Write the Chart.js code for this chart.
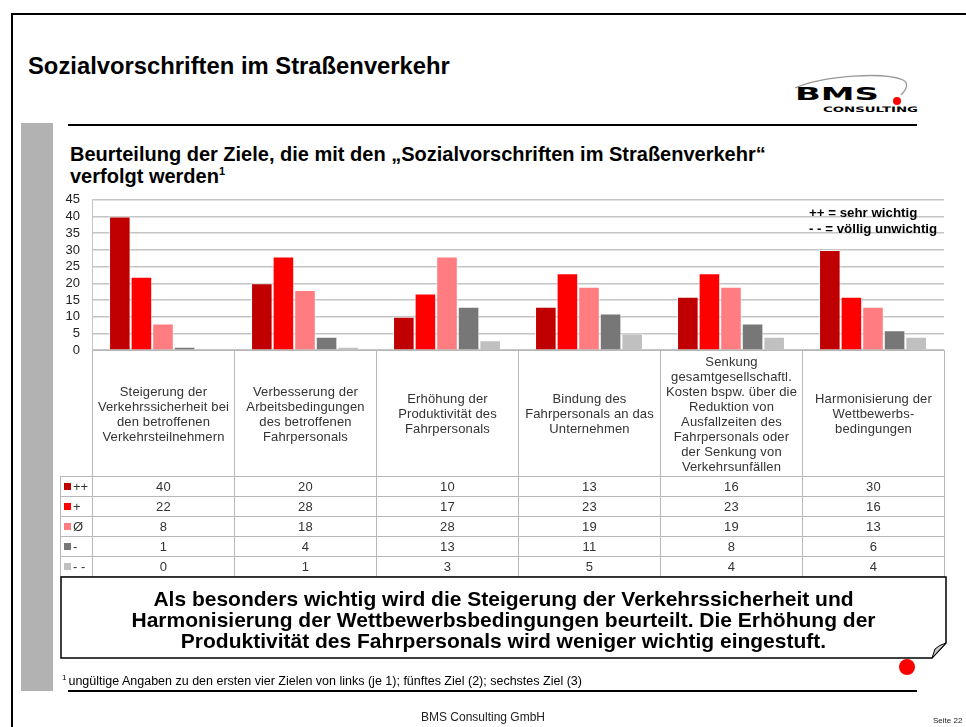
<!DOCTYPE html>
<html lang="de">
<head>
<meta charset="utf-8">
<title>Sozialvorschriften im Straßenverkehr</title>
<script src="https://cdn.jsdelivr.net/npm/chart.js@4.4.1/dist/chart.umd.min.js"></script>
<style>
  body { margin: 0; background: #fff; font-family: "Liberation Sans", Arial, sans-serif; }
  #slide { position: relative; width: 966px; height: 727px; overflow: hidden; background: #fff; }
  .abs { position: absolute; }
  #frame { left: 11px; top: 13px; width: 980px; height: 740px; border-left: 2px solid #000; border-top: 2px solid #000; }
  #graybar { left: 21px; top: 123px; width: 32px; height: 568px; background: #b2b2b2; }
  .rule { height: 0; border-top: 2px solid #000; }
  #title { left: 28px; top: 52px; font-size: 23.8px; font-weight: bold; color: #000; }
  #subtitle { left: 70px; top: 143px; font-size: 20px; font-weight: bold; line-height: 22px; color: #000; }
  #subtitle sup { font-size: 11px; vertical-align: 8px; line-height: 0; }
  #scale-note { left: 809px; top: 205px; font-size: 13.3px; font-weight: bold; line-height: 16px; color: #000; }
  #chart-wrap { left: 40px; top: 180px; width: 904px; height: 190px; }
  #tbl { left: 60px; top: 350px; border-collapse: collapse; table-layout: fixed; font-size: 13px; color: #333; }
  #tbl td { border: 1px solid #b8b8b8; text-align: center; padding: 0; letter-spacing: 0.15px; }
  #tbl td.key { text-align: left; padding-left: 3px; white-space: nowrap; letter-spacing: 0; }
  #tbl td.blank { border-top: none; border-left: none; }
  #tbl tr.head td { line-height: 15px; vertical-align: middle; }
  .sw { display: inline-block; width: 7px; height: 7px; margin-right: 2px; vertical-align: 1px; }
  #box-text { left: 61px; top: 580px; width: 885px; height: 81px; display: flex; align-items: center; justify-content: center;
              text-align: center; font-size: 21px; font-weight: bold; line-height: 21px; color: #000; }
  #footnote { left: 62px; top: 674px; font-size: 12.5px; color: #000; }
  #footnote sup { font-size: 8px; vertical-align: 5px; line-height: 0; margin-right: 2px; }
  #footer { left: 0; width: 966px; top: 710px; text-align: center; font-size: 12px; color: #222; }
  #page { left: 933px; top: 716px; font-size: 8px; color: #222; }
</style>
</head>
<body>
<div id="slide">
  <div id="frame" class="abs"></div>
  <div id="title" class="abs">Sozialvorschriften im Straßenverkehr</div>

  <svg class="abs" style="left:785px;top:70px" width="150" height="55">
    <path d="M10 18 C 40 5, 100 2, 118 10 C 124 13, 122 19, 116 25" fill="none" stroke="#999" stroke-width="1.3"/>
    <text x="10" y="30" font-family="DejaVu Sans" font-weight="bold" font-size="18" textLength="84" lengthAdjust="spacingAndGlyphs">BMS</text>
    <circle cx="112" cy="31" r="4" fill="#f00"/>
    <text x="38" y="42" font-family="DejaVu Sans" font-weight="bold" font-size="7.5" textLength="95" lengthAdjust="spacingAndGlyphs">CONSULTING</text>
  </svg>

  <div id="graybar" class="abs"></div>
  <div class="abs rule" style="left:68px;top:124px;width:849px"></div>

  <div id="subtitle" class="abs">Beurteilung der Ziele, die mit den „Sozialvorschriften im Straßenverkehr“<br>verfolgt werden<sup>1</sup></div>

  <div id="chart-wrap" class="abs"><canvas id="chart" width="904" height="190"></canvas></div>
  <div id="scale-note" class="abs">++ = sehr wichtig<br>- - = völlig unwichtig</div>

  <table id="tbl" class="abs"></table>

  <svg class="abs" style="left:0;top:0" width="966" height="727">
    <path d="M61 577 L946 577 L946 643 L932 658 L61 658 Z" fill="none" stroke="#000" stroke-width="1.5"/>
    <path d="M932 658 L935 649 Q 939 645 946 643 Z" fill="#c8c8c8" stroke="#000" stroke-width="1"/>
    <circle cx="907" cy="667" r="8" fill="#f00"/>
  </svg>
  <div id="box-text" class="abs" style="height:78px">Als besonders wichtig wird die Steigerung der Verkehrssicherheit und<br>Harmonisierung der Wettbewerbsbedingungen beurteilt. Die Erhöhung der<br>Produktivität des Fahrpersonals wird weniger wichtig eingestuft.</div>

  <div id="footnote" class="abs"><sup>1</sup>ungültige Angaben zu den ersten vier Zielen von links (je 1); fünftes Ziel (2); sechstes Ziel (3)</div>
  <div class="abs rule" style="left:68px;top:690px;width:849px"></div>

  <div id="footer" class="abs">BMS Consulting GmbH</div>
  <div id="page" class="abs">Seite 22</div>
</div>

<script>
// Ziele (Kategorien), zeilenweise wie im Original umbrochen
const categories = [
  ['Steigerung der', 'Verkehrssicherheit bei', 'den betroffenen', 'Verkehrsteilnehmern'],
  ['Verbesserung der', 'Arbeitsbedingungen', 'des betroffenen', 'Fahrpersonals'],
  ['Erhöhung der', 'Produktivität des', 'Fahrpersonals'],
  ['Bindung des', 'Fahrpersonals an das', 'Unternehmen'],
  ['Senkung', 'gesamtgesellschaftl.', 'Kosten bspw. über die', 'Reduktion von', 'Ausfallzeiten des', 'Fahrpersonals oder', 'der Senkung von', 'Verkehrsunfällen'],
  ['Harmonisierung der', 'Wettbewerbs-', 'bedingungen']
];

// Bewertungen (Anzahl Nennungen)
const seriesLabels = ['++', '+', 'Ø', '-', '- -'];
const sehrWichtig = [40, 20, 10, 13, 16, 30];
const wichtig = [22, 28, 17, 23, 23, 16];
const neutral = [8, 18, 28, 19, 19, 13];
const unwichtig = [1, 4, 13, 11, 8, 6];
const voelligUnwichtig = [0, 1, 3, 5, 4, 4];
const seriesColors = ['#c00000', '#ff0000', '#ff7c80', '#777777', '#c0c0c0'];

// y-Achse
const yMin = 0;
const yMax = 45;
const yStep = 5;

const allSeries = [sehrWichtig, wichtig, neutral, unwichtig, voelligUnwichtig];

// Datentabelle unter dem Diagramm
function renderTable() {
  const tbl = document.getElementById('tbl');
  let html = '<colgroup><col style="width:32px">' +
    categories.map(() => '<col style="width:142px">').join('') + '</colgroup>';
  html += '<tr class="head" style="height:126px"><td class="blank"></td>' +
    categories.map(lines => `<td>${lines.join('<br>')}</td>`).join('') + '</tr>';
  allSeries.forEach((values, i) => {
    html += `<tr style="height:20px"><td class="key"><span class="sw" style="background:${seriesColors[i]}"></span>${seriesLabels[i]}</td>` +
      values.map(v => `<td>${v}</td>`).join('') + '</tr>';
  });
  tbl.innerHTML = html;
}

// Säulendiagramm
function initChart() {
  const ctx = document.getElementById('chart').getContext('2d');
  new Chart(ctx, {
    type: 'bar',
    data: {
      labels: categories.map(c => c.join(' ')),
      datasets: allSeries.map((values, i) => ({
        label: seriesLabels[i],
        data: values,
        backgroundColor: seriesColors[i],
        borderColor: 'rgba(255,255,255,0.7)',
        borderWidth: 1,
        categoryPercentage: 0.76,
        barPercentage: 1.0
      }))
    },
    options: {
      responsive: false,
      animation: false,
      devicePixelRatio: 1,
      layout: { padding: { top: 12, bottom: 8, left: 0, right: 0 } },
      plugins: { legend: { display: false }, tooltip: { enabled: false } },
      scales: {
        x: { display: false },
        y: {
          min: yMin,
          max: yMax,
          ticks: { stepSize: yStep, autoSkip: false, padding: 12, color: '#222', font: { family: 'Liberation Sans', size: 13 } },
          grid: { color: '#c4c4c4', lineWidth: 1.5, drawTicks: false },
          border: { display: true, color: '#c4c4c4', width: 1 },
          afterFit: scale => { scale.width = 52; }
        }
      }
    }
  });
}

renderTable();
initChart();
</script>
</body>
</html>
